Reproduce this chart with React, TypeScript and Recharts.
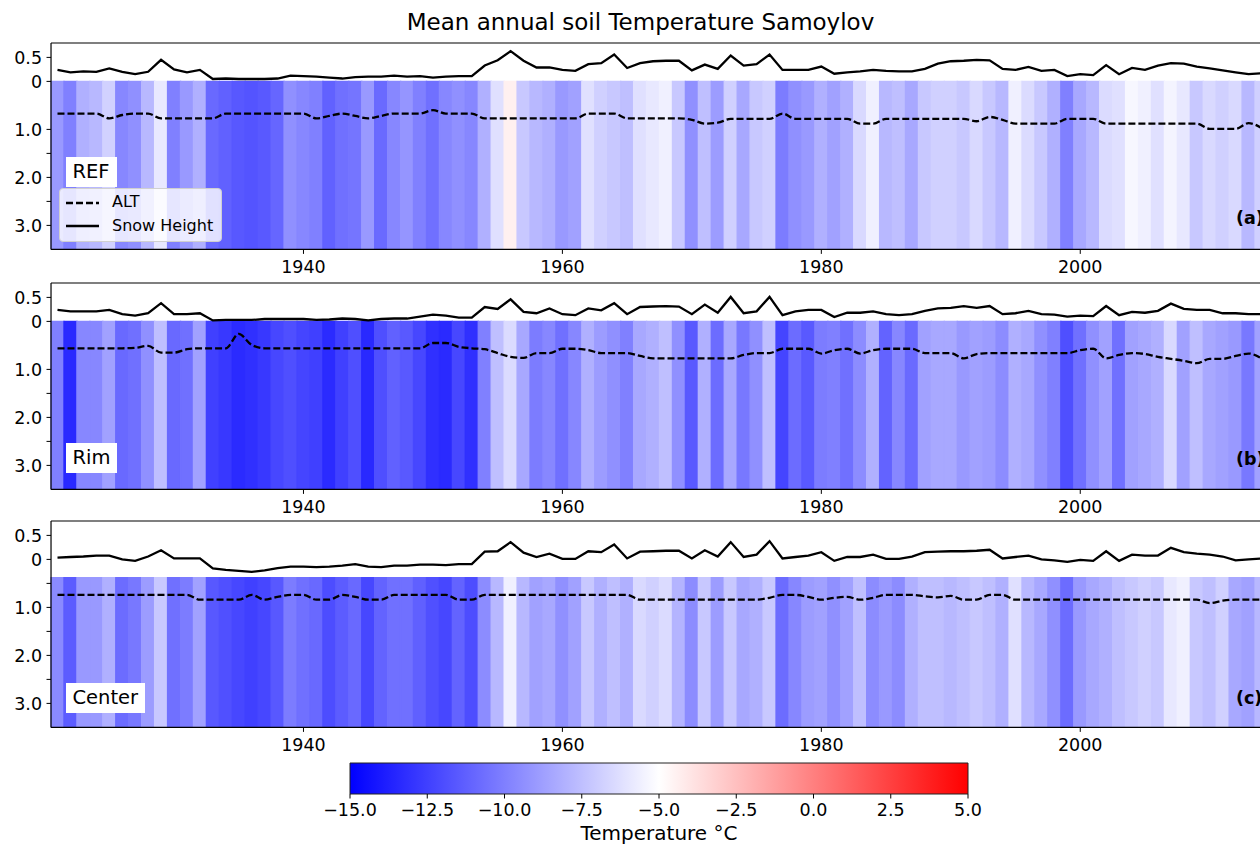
import React from 'react';
import { ComposedChart, Bar, Line, XAxis, YAxis, Cell, ReferenceLine, ReferenceArea } from 'recharts';

// years run 1921.. (one value per year), depth in metres, temperature in °C
const START_YEAR = 1921;

const TEMP_REF = [
  -9.0, -10.0, -8.1, -7.8, -6.8, -9.7, -9.35, -7.8, -5.9, -10.0,
  -9.0, -8.1, -10.9, -11.2, -11.55, -11.7, -11.5, -11.0, -9.35, -9.7,
  -10.0, -11.2, -10.6, -10.4, -9.0, -10.85, -9.7, -9.15, -10.0, -10.6,
  -9.7, -9.35, -9.7, -8.1, -6.2, -4.4, -7.15, -7.8, -8.1, -9.0,
  -8.7, -6.2, -6.85, -7.15, -7.5, -6.2, -5.9, -5.6, -7.15, -9.35,
  -7.5, -8.9, -6.85, -8.4, -7.15, -6.85, -10.15, -9.35, -9.0, -8.1,
  -8.7, -8.1, -6.5, -5.6, -7.8, -7.5, -8.4, -7.15, -6.85, -6.85,
  -7.15, -6.5, -7.15, -7.8, -5.6, -6.4, -7.15, -8.1, -10.0, -8.4,
  -7.8, -6.4, -6.2, -5.3, -5.6, -6.2, -5.45, -5.9, -7.15, -6.5,
  -6.85, -6.5, -7.8, -6.85,
];
const TEMP_RIM = [
  -10.0, -13.4, -9.7, -9.7, -8.7, -10.9, -10.6, -9.35, -7.5, -10.9,
  -10.6, -8.7, -12.5, -12.8, -13.3, -13.1, -12.8, -12.2, -11.9, -12.3,
  -12.5, -13.3, -12.5, -11.9, -13.4, -11.9, -11.2, -11.5, -12.2, -13.1,
  -13.35, -12.2, -13.1, -10.0, -7.5, -6.4, -8.4, -10.15, -9.7, -10.6,
  -9.7, -8.1, -8.9, -9.35, -10.0, -8.4, -8.1, -7.5, -9.35, -11.5,
  -8.1, -10.75, -8.4, -10.3, -9.35, -7.5, -12.3, -10.75, -11.5, -10.15,
  -10.0, -10.6, -9.5, -8.1, -11.1, -9.7, -10.85, -8.7, -8.4, -8.4,
  -9.0, -8.7, -8.9, -9.5, -8.1, -8.4, -9.35, -10.0, -11.9, -10.6,
  -9.35, -8.7, -10.6, -8.7, -8.4, -8.1, -6.5, -8.7, -7.5, -8.4,
  -8.7, -9.0, -10.3, -8.7,
];
const TEMP_CENTER = [
  -9.6, -11.4, -9.0, -9.0, -8.1, -10.75, -10.3, -8.9, -7.15, -10.6,
  -10.15, -8.7, -11.55, -11.85, -12.2, -12.5, -12.2, -11.55, -10.15, -10.6,
  -10.9, -12.0, -11.4, -10.9, -12.2, -11.1, -10.6, -10.6, -11.25, -11.85,
  -12.2, -11.1, -12.0, -9.5, -7.8, -5.6, -7.8, -8.7, -8.4, -9.35,
  -8.7, -7.15, -8.1, -7.5, -8.1, -6.5, -6.85, -6.4, -7.95, -9.5,
  -7.15, -8.9, -7.15, -8.4, -8.1, -7.15, -10.75, -9.7, -8.9, -8.7,
  -9.35, -8.7, -7.5, -9.5, -9.0, -9.5, -8.1, -7.5, -7.5, -7.8,
  -7.5, -7.15, -7.5, -8.1, -6.2, -7.8, -8.4, -9.35, -10.75, -9.0,
  -8.4, -8.1, -7.5, -7.15, -6.85, -7.15, -5.9, -5.6, -7.15, -7.5,
  -6.85, -8.4, -8.7, -7.8,
];

const SNOW_REF = [
  0.24, 0.19, 0.21, 0.2, 0.27, 0.2, 0.15, 0.2, 0.45, 0.25,
  0.19, 0.24, 0.05, 0.06, 0.05, 0.05, 0.05, 0.06, 0.12, 0.11,
  0.1, 0.08, 0.06, 0.09, 0.1, 0.1, 0.12, 0.1, 0.11, 0.08,
  0.1, 0.11, 0.11, 0.33, 0.44, 0.63, 0.43, 0.29, 0.29, 0.24,
  0.22, 0.36, 0.38, 0.56, 0.28, 0.38, 0.42, 0.43, 0.43, 0.23,
  0.35, 0.26, 0.54, 0.33, 0.36, 0.56, 0.24, 0.24, 0.24, 0.31,
  0.16, 0.19, 0.21, 0.24, 0.22, 0.21, 0.21, 0.26, 0.37, 0.42,
  0.43, 0.45, 0.44, 0.26, 0.24, 0.3, 0.22, 0.24, 0.11, 0.15,
  0.13, 0.34, 0.15, 0.28, 0.24, 0.33, 0.38, 0.37, 0.31, 0.27,
  0.23, 0.19, 0.15, 0.17,
];
const SNOW_RIM = [
  0.24, 0.21, 0.21, 0.21, 0.24, 0.15, 0.12, 0.17, 0.38, 0.15,
  0.15, 0.17, 0.02, 0.03, 0.03, 0.03, 0.05, 0.05, 0.05, 0.05,
  0.03, 0.04, 0.06, 0.05, 0.02, 0.05, 0.06, 0.06, 0.1, 0.14,
  0.12, 0.08, 0.08, 0.3, 0.26, 0.46, 0.2, 0.17, 0.27, 0.15,
  0.13, 0.27, 0.23, 0.38, 0.15, 0.3, 0.31, 0.32, 0.31, 0.15,
  0.35, 0.18, 0.51, 0.17, 0.21, 0.51, 0.13, 0.21, 0.24, 0.24,
  0.09, 0.18, 0.18, 0.21, 0.15, 0.13, 0.15, 0.22, 0.27, 0.28,
  0.32, 0.28, 0.32, 0.15, 0.17, 0.22, 0.15, 0.14, 0.1, 0.12,
  0.11, 0.32, 0.13, 0.2, 0.18, 0.22, 0.37, 0.26, 0.24, 0.24,
  0.17, 0.17, 0.15, 0.15,
];
const SNOW_CENTER = [
  0.035, 0.05, 0.06, 0.08, 0.08, 0.0, -0.03, 0.06, 0.19, 0.02,
  0.02, 0.02, -0.19, -0.22, -0.24, -0.26, -0.23, -0.18, -0.15, -0.15,
  -0.16, -0.15, -0.13, -0.1, -0.15, -0.16, -0.13, -0.13, -0.11, -0.11,
  -0.12, -0.1, -0.1, 0.16, 0.17, 0.36, 0.14, 0.05, 0.12, 0.01,
  0.01, 0.17, 0.15, 0.31, 0.02, 0.16, 0.17, 0.18, 0.18, 0.02,
  0.19, 0.06, 0.36, 0.05, 0.1, 0.38, 0.02, 0.05, 0.08, 0.15,
  -0.03, 0.05, 0.05, 0.1, 0.01, 0.01, 0.06, 0.15, 0.16, 0.17,
  0.17, 0.18, 0.2, 0.02, 0.05, 0.08, 0.0, -0.02, -0.05, -0.01,
  -0.03, 0.17, -0.03, 0.1, 0.08, 0.08, 0.24, 0.15, 0.12, 0.1,
  0.06, -0.02, 0.0, 0.02,
];

const ALT_REF = [
  0.67, 0.67, 0.67, 0.67, 0.77, 0.7, 0.67, 0.67, 0.77, 0.77,
  0.77, 0.77, 0.77, 0.67, 0.67, 0.67, 0.67, 0.67, 0.67, 0.67,
  0.77, 0.72, 0.67, 0.72, 0.77, 0.72, 0.67, 0.67, 0.67, 0.6,
  0.67, 0.67, 0.67, 0.77, 0.77, 0.77, 0.77, 0.77, 0.77, 0.77,
  0.77, 0.67, 0.67, 0.67, 0.77, 0.77, 0.77, 0.77, 0.77, 0.8,
  0.88, 0.86, 0.78, 0.78, 0.78, 0.78, 0.67, 0.78, 0.78, 0.78,
  0.78, 0.78, 0.88, 0.88, 0.78, 0.78, 0.78, 0.78, 0.78, 0.78,
  0.78, 0.83, 0.74, 0.8, 0.88, 0.88, 0.88, 0.88, 0.78, 0.78,
  0.78, 0.88, 0.88, 0.88, 0.88, 0.88, 0.88, 0.88, 0.88, 0.99,
  0.99, 0.99, 0.87, 0.97,
];
const ALT_RIM = [
  0.56, 0.56, 0.56, 0.56, 0.56, 0.56, 0.55, 0.51, 0.65, 0.65,
  0.58, 0.56, 0.56, 0.56, 0.26, 0.49, 0.56, 0.56, 0.56, 0.56,
  0.56, 0.56, 0.56, 0.56, 0.56, 0.56, 0.56, 0.56, 0.56, 0.45,
  0.45, 0.53, 0.56, 0.58, 0.66, 0.74, 0.76, 0.66, 0.66, 0.57,
  0.57, 0.6, 0.66, 0.66, 0.66, 0.72, 0.77, 0.77, 0.77, 0.77,
  0.77, 0.77, 0.77, 0.7, 0.66, 0.66, 0.57, 0.57, 0.57, 0.67,
  0.6, 0.57, 0.67, 0.6, 0.57, 0.57, 0.57, 0.66, 0.66, 0.66,
  0.77, 0.68, 0.66, 0.66, 0.66, 0.66, 0.66, 0.66, 0.66, 0.6,
  0.57, 0.77, 0.7, 0.66, 0.68, 0.74, 0.78, 0.82, 0.87, 0.78,
  0.78, 0.72, 0.67, 0.77,
];
const ALT_CENTER = [
  0.74, 0.74, 0.74, 0.74, 0.74, 0.74, 0.74, 0.74, 0.74, 0.74,
  0.74, 0.84, 0.84, 0.84, 0.84, 0.74, 0.84, 0.78, 0.74, 0.74,
  0.84, 0.84, 0.74, 0.78, 0.84, 0.84, 0.74, 0.74, 0.74, 0.74,
  0.74, 0.84, 0.84, 0.74, 0.74, 0.74, 0.74, 0.74, 0.74, 0.74,
  0.74, 0.74, 0.74, 0.74, 0.74, 0.84, 0.84, 0.84, 0.84, 0.84,
  0.84, 0.84, 0.84, 0.84, 0.84, 0.8, 0.74, 0.74, 0.78, 0.84,
  0.8, 0.78, 0.84, 0.8, 0.74, 0.74, 0.74, 0.77, 0.79, 0.76,
  0.84, 0.84, 0.74, 0.74, 0.84, 0.84, 0.84, 0.84, 0.84, 0.84,
  0.84, 0.84, 0.84, 0.84, 0.84, 0.84, 0.84, 0.84, 0.84, 0.91,
  0.86, 0.84, 0.84, 0.84,
];

// depth of the ground surface below the panel zero line
const SURFACE = { ref: 0, rim: 0, center: 0.38 };
const MAX_DEPTH = 3.5;
const SNOW_TOP = 0.8;

const X_TICKS = [1940, 1960, 1980, 2000];
const Y_TICKS = [0.5, 0, -1, -1.5, -2, -2.5, -3];
const Y_TICKS_C = [0.5, 0, -0.5, -1, -1.5, -2, -2.5, -3];
const CBAR_TICKS = [-15, -12.5, -10, -7.5, -5, -2.5, 0, 2.5, 5];

const FONT = '"DejaVu Sans", Verdana, sans-serif';
const CHART_W = 1290;
const PLOT_H = 206.4;
const PAD_TOP = 10;

// matplotlib "bwr", vmin -15 / vmax 5
function bwr(t: number) {
  const f = Math.max(0, Math.min(1, (t + 15) / 20));
  if (f <= 0.5) {
    const v = Math.round(255 * (f / 0.5));
    return `rgb(${v},${v},255)`;
  }
  const v = Math.round(255 * (1 - (f - 0.5) / 0.5));
  return `rgb(255,${v},${v})`;
}

function fmtDepth(v: number) {
  if (v === 0) return '0';
  if (v > 0) return v.toFixed(1);
  return Number.isInteger(v) ? (-v).toFixed(1) : '';
}

const tickStyle = { fill: '#000', fontSize: 17.5, fontFamily: FONT };

interface PanelProps {
  temps: number[];
  snow: number[];
  alt: number[];
  surface: number;
  yTicks: number[];
  top: number;
}

function Panel({ temps, snow, alt, surface, yTicks, top }: PanelProps) {
  const data = temps.map((t, i) => ({
    year: START_YEAR + i,
    temp: t,
    soil: [-MAX_DEPTH, -surface],
    snow: snow[i],
    alt: -alt[i],
  }));

  return (
    <div style={{ position: 'absolute', left: 0, top: top - PAD_TOP }}>
      <ComposedChart
        width={CHART_W}
        height={PAD_TOP + PLOT_H + 40}
        data={data}
        margin={{ top: PAD_TOP, right: 22, bottom: 0, left: 0 }}
        barCategoryGap={0}
        barGap={0}
      >
        <XAxis
          dataKey="year"
          type="category"
          ticks={X_TICKS}
          interval={0}
          height={40}
          tickSize={4.5}
          tickMargin={6.5}
          tick={tickStyle}
          axisLine={{ stroke: '#000', strokeWidth: 1.2 }}
          tickLine={{ stroke: '#000', strokeWidth: 1 }}
        />
        <YAxis
          type="number"
          domain={[-MAX_DEPTH, SNOW_TOP]}
          allowDataOverflow
          ticks={yTicks}
          interval={0}
          width={51}
          tickSize={4.5}
          tickMargin={4.5}
          tickFormatter={fmtDepth}
          tick={tickStyle}
          axisLine={{ stroke: '#000', strokeWidth: 1.2 }}
          tickLine={{ stroke: '#000', strokeWidth: 1 }}
        />
        <Bar dataKey="soil" isAnimationActive={false}>
          {data.map((d) => (
            <Cell key={d.year} fill={bwr(d.temp)} stroke={bwr(d.temp)} strokeWidth={1.3} />
          ))}
        </Bar>
        <ReferenceLine y={SNOW_TOP} stroke="#000" strokeWidth={1.2} />
        <Line
          dataKey="alt"
          type="monotone"
          stroke="#000"
          strokeWidth={2.3}
          strokeDasharray="7 3"
          dot={false}
          activeDot={false}
          isAnimationActive={false}
        />
        <Line
          dataKey="snow"
          type="linear"
          stroke="#000"
          strokeWidth={2.3}
          dot={false}
          activeDot={false}
          isAnimationActive={false}
        />
      </ComposedChart>
    </div>
  );
}

function ColorBar() {
  // span gives the hidden y axis a domain so the gradient strip can be placed on it
  const data = CBAR_TICKS.map((v) => ({ v, span: 1 }));
  return (
    <div style={{ position: 'absolute', left: 0, top: 763 - 5 }}>
      <ComposedChart width={CHART_W} height={5 + 31 + 40} data={data} margin={{ top: 5, right: CHART_W - 968, bottom: 0, left: 350 }}>
        <defs>
          <linearGradient id="bwrGrad" x1="0" y1="0" x2="1" y2="0">
            <stop offset="0%" stopColor="#0000ff" />
            <stop offset="50%" stopColor="#ffffff" />
            <stop offset="100%" stopColor="#ff0000" />
          </linearGradient>
        </defs>
        <XAxis
          dataKey="v"
          type="number"
          domain={[-15, 5]}
          ticks={CBAR_TICKS}
          interval={0}
          height={40}
          tickSize={4.5}
          tickMargin={5.5}
          tick={tickStyle}
          tickFormatter={(v: number) => v.toFixed(1).replace('-', '\u2212')}
          axisLine={false}
          tickLine={{ stroke: '#000', strokeWidth: 1 }}
        />
        <YAxis hide domain={[0, 1]} type="number" width={0} />
        <Line dataKey="span" stroke="none" dot={false} activeDot={false} isAnimationActive={false} />
        <ReferenceArea
          x1={-15}
          x2={5}
          y1={0}
          y2={1}
          ifOverflow="visible"
          fill="url(#bwrGrad)"
          fillOpacity={1}
          stroke="#222"
          strokeWidth={1}
        />
      </ComposedChart>
    </div>
  );
}

const boxLabel: React.CSSProperties = {
  position: 'absolute',
  left: 65.5,
  background: '#fff',
  fontFamily: FONT,
  fontSize: 19.5,
  lineHeight: '26px',
  padding: '2px 7px',
  color: '#000',
};

const letter: React.CSSProperties = {
  position: 'absolute',
  left: 1236,
  fontFamily: FONT,
  fontSize: 17.5,
  fontWeight: 'bold',
  lineHeight: '17.5px',
  color: '#000',
  whiteSpace: 'nowrap',
};

export default function App() {
  return (
    <div style={{ position: 'fixed', left: 0, top: 0, width: 1260, height: 847, overflow: 'hidden', background: '#fff' }}>
      <div
        style={{
          position: 'absolute',
          left: 0,
          width: 1281,
          top: 10.5,
          textAlign: 'center',
          fontFamily: FONT,
          fontSize: 23,
          lineHeight: '23px',
          color: '#000',
        }}
      >
        Mean annual soil Temperature Samoylov
      </div>

      <Panel temps={TEMP_REF} snow={SNOW_REF} alt={ALT_REF} surface={SURFACE.ref} yTicks={Y_TICKS} top={43.3} />
      <Panel temps={TEMP_RIM} snow={SNOW_RIM} alt={ALT_RIM} surface={SURFACE.rim} yTicks={Y_TICKS} top={282.6} />
      <Panel temps={TEMP_CENTER} snow={SNOW_CENTER} alt={ALT_CENTER} surface={SURFACE.center} yTicks={Y_TICKS_C} top={521.4} />
      <ColorBar />

      <div style={{ ...boxLabel, top: 156.7 }}>REF</div>
      <div style={{ ...boxLabel, top: 443 }}>Rim</div>
      <div style={{ ...boxLabel, top: 683 }}>Center</div>

      <div style={{ ...letter, top: 210 }}>(a)</div>
      <div style={{ ...letter, top: 450.5 }}>(b)</div>
      <div style={{ ...letter, top: 689.5 }}>(c)</div>

      <div
        style={{
          position: 'absolute',
          left: 59,
          top: 188,
          width: 163,
          height: 54,
          boxSizing: 'border-box',
          background: 'rgba(255,255,255,0.8)',
          border: '1px solid #d0d0d0',
          borderRadius: 4,
          fontFamily: FONT,
          fontSize: 16,
          color: '#000',
        }}
      >
        <svg width={40} height={54} style={{ position: 'absolute', left: 5, top: -1 }}>
          <line x1={1} x2={34} y1={15} y2={15} stroke="#000" strokeWidth={2.3} strokeDasharray="7 3" />
          <line x1={1} x2={34} y1={38} y2={38} stroke="#000" strokeWidth={2.3} />
        </svg>
        <div style={{ position: 'absolute', left: 52, top: 5, lineHeight: '16px' }}>ALT</div>
        <div style={{ position: 'absolute', left: 52, top: 28.5, lineHeight: '16px', whiteSpace: 'nowrap' }}>Snow Height</div>
      </div>

      <div
        style={{
          position: 'absolute',
          left: 559,
          width: 200,
          top: 823,
          textAlign: 'center',
          fontFamily: FONT,
          fontSize: 20,
          lineHeight: '20px',
          color: '#000',
        }}
      >
        Temperature °C
      </div>
    </div>
  );
}
